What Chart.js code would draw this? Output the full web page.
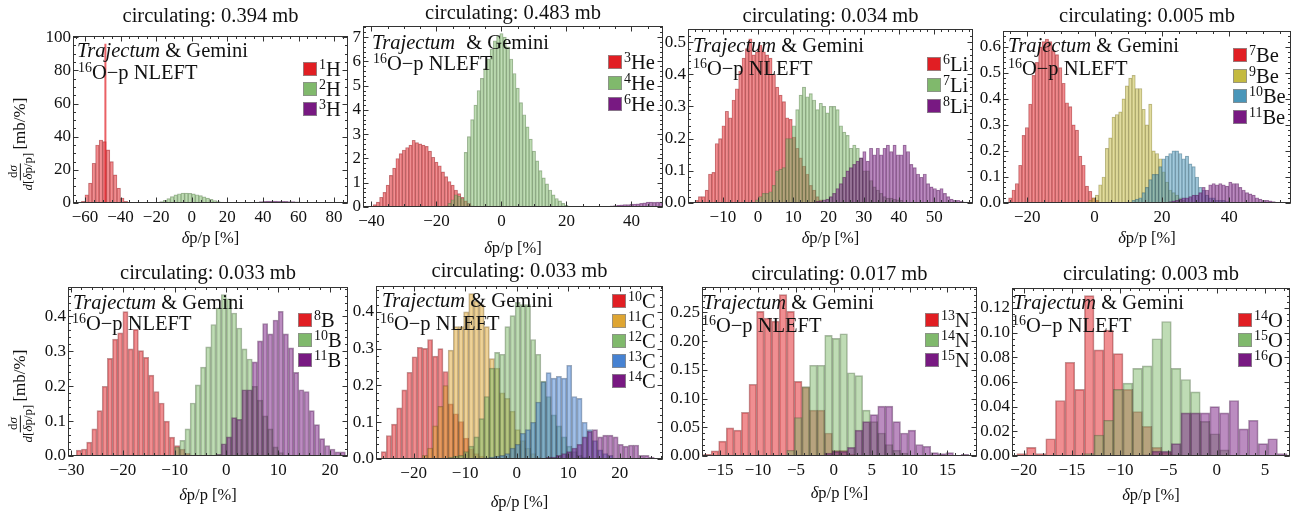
<!DOCTYPE html>
<html lang="en">
<head>
<meta charset="utf-8" />
<title>Fragment momentum deviation, 16O-p NLEFT</title>
<script src="https://cdn.jsdelivr.net/npm/chart.js"></script>
<style>
  html, body { margin: 0; background: #ffffff; }
  body {
    position: relative; width: 1299px; height: 515px; overflow: hidden;
    font-family: 'Liberation Serif', 'Times New Roman', serif; color: #111;
  }
  canvas { position: absolute; }
  .txt { position: absolute; white-space: nowrap; line-height: 1; z-index: 2; }
  .mid { transform: translate(-50%, -50%); }
  .lft { transform: translateY(-50%); }
  .title { font-size: 20.5px; }
  .xlab { font-size: 16.5px; }
  .note { font-size: 20.5px; }
  .legl { font-size: 20.5px; }
  .sw { position: absolute; width: 14px; height: 14px; box-sizing: border-box; border: 1px solid rgba(140,140,140,0.8); z-index: 2; }
  sup { font-size: 0.68em; line-height: 0; vertical-align: 0; position: relative; top: -0.48em; }
  .ylab { position: absolute; z-index: 2; white-space: nowrap; display: flex; align-items: center;
          transform: translate(-50%, -50%) rotate(-90deg); }
  .frac { display: inline-flex; flex-direction: column; align-items: center; font-size: 13px; line-height: 1.05; }
  .frac .num { border-bottom: 1px solid #111; padding: 0 2px; }
  .unit { font-size: 17px; margin-left: 3px; }
</style>
</head>
<body>
<script>
// ---------- data (bin centres: first value + bin width of the panel) ----------
// hydrogen
const h1First = -61;
const h1 = [1, 5, 12, 24, 35, 38, 37, 32, 25, 17, 9, 3, 1];
const h1Spike = [-48.5, 96];
const h2First = -19;
const h2 = [0.3, 0.8, 1.6, 2.6, 3.8, 4.9, 5.6, 6.0, 6.0, 5.8, 5.5, 5.0, 4.4, 3.7, 2.9, 2.2, 1.5, 0.9, 0.5, 0.2];
const h3First = 31;
const h3 = [0.1, 0.2, 0.4, 0.6, 0.8, 1.0, 1.1, 1.1, 1.1, 1.0, 1.0, 1.0, 0.9, 0.8, 0.7, 0.5, 0.4, 0.3, 0.2, 0.1];

// helium
const he3First = -39;
const he3 = [0.1, 0.2, 0.4, 0.6, 0.9, 1.3, 1.6, 2.0, 2.2, 2.35, 2.45, 2.55, 2.75, 2.65, 2.6, 2.55, 2.5, 2.3,
             2.05, 1.85, 1.7, 1.45, 1.25, 1.05, 0.9, 0.7, 0.55, 0.4, 0.25, 0.15, 0.05];
const he4First = -17;
const he4 = [0.05, 0.15, 0.3, 0.5, 0.45, 0.35, 2.25, 2.9, 3.6, 4.2, 4.8, 5.3, 5.7, 6.1, 6.5, 6.85, 7.05, 7.15,
             7.0, 6.6, 6.1, 5.5, 4.9, 4.3, 3.8, 3.3, 2.8, 2.3, 1.9, 1.5, 1.2, 0.95, 0.7, 0.5, 0.35, 0.25, 0.15, 0.07];
const he6First = 33;
const he6 = [0.03, 0.05, 0.06, 0.08, 0.09, 0.1, 0.1, 0.12, 0.12, 0.13, 0.15, 0.17, 0.2, 0.2, 0.19, 0.2, 0.2, 0.2];

// lithium
const li6First = -17.43;
const li6 = [0.008, 0.02, 0.02, 0.04, 0.09, 0.095, 0.185, 0.2, 0.24, 0.285, 0.265, 0.32, 0.355, 0.41, 0.45, 0.48,
             0.51, 0.46, 0.47, 0.49, 0.47, 0.46, 0.45, 0.4, 0.36, 0.335, 0.315, 0.265, 0.26, 0.205, 0.17, 0.14,
             0.115, 0.09, 0.055, 0.04, 0.02, 0.01];
const li7First = -0.3;
const li7 = [0.01, 0.02, 0.03, 0.03, 0.035, 0.055, 0.1, 0.105, 0.11, 0.2, 0.2, 0.24, 0.29, 0.335, 0.36, 0.33, 0.34,
             0.32, 0.29, 0.31, 0.3, 0.28, 0.3, 0.3, 0.29, 0.24, 0.22, 0.21, 0.17, 0.18, 0.17, 0.14, 0.1, 0.1, 0.07,
             0.05, 0.04, 0.03, 0.02, 0.015, 0.015, 0.012, 0.01, 0.008];
const li8First = 16.8;
const li8 = [0.005, 0.007, 0.01, 0.012, 0.02, 0.03, 0.045, 0.06, 0.08, 0.1, 0.11, 0.12, 0.13, 0.14, 0.16, 0.13, 0.17,
             0.15, 0.17, 0.15, 0.17, 0.18, 0.16, 0.18, 0.15, 0.15, 0.18, 0.16, 0.12, 0.11, 0.09, 0.08, 0.09, 0.06,
             0.05, 0.045, 0.04, 0.045, 0.03, 0.02, 0.012, 0.008, 0.008, 0.005, 0.003];

// beryllium
const be7First = -25.05;
const be7 = [0.02, 0.05, 0.075, 0.145, 0.26, 0.29, 0.38, 0.49, 0.54, 0.6, 0.62, 0.63, 0.62, 0.585, 0.57, 0.52, 0.46,
             0.385, 0.37, 0.3, 0.28, 0.18, 0.145, 0.065, 0.045, 0.02, 0.01];
const be9First = -1.3;
const be9 = [0.01, 0.02, 0.03, 0.07, 0.1, 0.21, 0.25, 0.33, 0.34, 0.35, 0.4, 0.45, 0.48, 0.49, 0.44, 0.44, 0.36, 0.3,
             0.38, 0.2, 0.19, 0.17, 0.12, 0.08, 0.05, 0.04, 0.03, 0.02, 0.01];
const be10First = 11.6;
const be10 = [0.01, 0.015, 0.02, 0.04, 0.06, 0.09, 0.11, 0.11, 0.14, 0.17, 0.18, 0.19, 0.2, 0.2, 0.19, 0.17, 0.18,
              0.15, 0.14, 0.1, 0.06, 0.05, 0.03, 0.02, 0.02, 0.01, 0.01, 0.01, 0.005];
const be11First = 22.5;
const be11 = [0.005, 0.008, 0.01, 0.015, 0.02, 0.02, 0.025, 0.03, 0.03, 0.04, 0.06, 0.05, 0.07, 0.075, 0.07, 0.075,
              0.07, 0.065, 0.08, 0.075, 0.075, 0.06, 0.05, 0.04, 0.035, 0.03, 0.02, 0.015, 0.01, 0.01, 0.008, 0.005];

// boron
const b8First = -28.5;
const b8 = [0.017, 0.02, 0.04, 0.078, 0.13, 0.2, 0.28, 0.335, 0.353, 0.414, 0.307, 0.363, 0.302, 0.283, 0.232,
            0.185, 0.152, 0.1, 0.054, 0.03, 0.02, 0.008];
const b10First = -9.5;
const b10 = [0.026, 0.045, 0.078, 0.152, 0.204, 0.255, 0.313, 0.377, 0.425, 0.463, 0.451, 0.41, 0.367, 0.307, 0.278,
             0.2, 0.16, 0.115, 0.078, 0.026, 0.01];
const b11First = -1.5;
const b11 = [0.005, 0.035, 0.055, 0.11, 0.105, 0.19, 0.19, 0.27, 0.33, 0.38, 0.35, 0.39, 0.415, 0.35, 0.31, 0.24,
             0.19, 0.185, 0.13, 0.09, 0.05, 0.03, 0.02, 0.012, 0.012];

// carbon
const c10First = -25.8;
const c10 = [0.02, 0.064, 0.095, 0.139, 0.188, 0.236, 0.278, 0.304, 0.301, 0.325, 0.28, 0.3, 0.238, 0.15, 0.123,
             0.102, 0.057, 0.028, 0.015, 0.008];
const c11First = -17.8;
const c11 = [0.01, 0.03, 0.09, 0.143, 0.2, 0.296, 0.36, 0.36, 0.4, 0.45, 0.43, 0.42, 0.36, 0.273, 0.247, 0.18,
             0.165, 0.13, 0.08, 0.05, 0.03, 0.015, 0.005];
const c12First = -12.8;
const c12 = [0.005, 0.008, 0.01, 0.02, 0.035, 0.06, 0.11, 0.17, 0.247, 0.29, 0.285, 0.36, 0.39, 0.426, 0.42, 0.42,
             0.325, 0.285, 0.212, 0.17, 0.12, 0.09, 0.06, 0.035, 0.02, 0.01, 0.005];
const c13First = -6.8;
const c13 = [0.002, 0.003, 0.005, 0.008, 0.01, 0.015, 0.03, 0.04, 0.07, 0.08, 0.1, 0.155, 0.21, 0.235, 0.22, 0.225,
             0.22, 0.255, 0.17, 0.165, 0.1, 0.08, 0.05, 0.025, 0.015, 0.01];
const c14First = 6.2;
const c14 = [0.005, 0.005, 0.01, 0.015, 0.02, 0.03, 0.04, 0.06, 0.075, 0.08, 0.06, 0.065, 0.065, 0.06, 0.04, 0.035,
             0.038, 0.038, 0.01, 0.01, 0.005];

// nitrogen
const n13First = -16.7;
const n13 = [0.003, 0.009, 0.026, 0.049, 0.045, 0.076, 0.125, 0.252, 0.24, 0.235, 0.281, 0.252, 0.13, 0.12, 0.08,
             0.08, 0.04, 0.01, 0.01, 0.003];
const n14First = -5.7;
const n14 = [0.01, 0.067, 0.121, 0.158, 0.158, 0.21, 0.205, 0.213, 0.145, 0.14, 0.08, 0.06, 0.04, 0.02, 0.01, 0.005];
const n15First = -0.7;
const n15 = [0.005, 0.008, 0.008, 0.015, 0.045, 0.06, 0.072, 0.087, 0.087, 0.06, 0.04, 0.045, 0.02, 0.017, 0.006,
             0.004, 0.006, 0, 0.003];

// oxygen
const o14First = -20.2;
const o14 = [0.002, 0.007, 0.002, 0.014, 0.045, 0.076, 0.054, 0.13, 0.086, 0.102, 0.083, 0.054, 0.036, 0.024,
             0.007, 0.003, 0.001];
const o15First = -13.2;
const o15 = [0.002, 0.017, 0.029, 0.054, 0.059, 0.071, 0.073, 0.095, 0.109, 0.071, 0.062, 0.052, 0.028, 0.018, 0.005];
const o16First = -7.2;
const o16 = [0.001, 0.004, 0.004, 0.01, 0.035, 0.035, 0.035, 0.04, 0.035, 0.045, 0.022, 0.029, 0.01, 0.014, 0.002];

// tick labels
const p1X = [-60, -40, -20, 0, 20, 40, 60, 80], p1Y = [0, 20, 40, 60, 80, 100];
const p2X = [-40, -20, 0, 20, 40], p2Y = [0, 1, 2, 3, 4, 5, 6, 7];
const p3X = [-10, 0, 10, 20, 30, 40, 50], p3Y = [0, 0.1, 0.2, 0.3, 0.4, 0.5];
const p4X = [-20, 0, 20, 40], p4Y = [0, 0.1, 0.2, 0.3, 0.4, 0.5, 0.6];
const p5X = [-30, -20, -10, 0, 10, 20], p5Y = [0, 0.1, 0.2, 0.3, 0.4];
const p6X = [-20, -10, 0, 10, 20], p6Y = [0, 0.1, 0.2, 0.3, 0.4];
const p7X = [-15, -10, -5, 0, 5, 10, 15], p7Y = [0, 0.05, 0.1, 0.15, 0.2, 0.25];
const p8X = [-20, -15, -10, -5, 0, 5], p8Y = [0, 0.02, 0.04, 0.06, 0.08, 0.1, 0.12];

const titles = ['circulating: 0.394 mb', 'circulating: 0.483 mb', 'circulating: 0.034 mb', 'circulating: 0.005 mb',
                'circulating: 0.033 mb', 'circulating: 0.033 mb', 'circulating: 0.017 mb', 'circulating: 0.003 mb'];

// ---------- styles ----------
const RED = [225, 30, 35], GREEN = [128, 185, 108], PURPLE = [120, 25, 130], OLIVE = [196, 186, 64],
      TEAL = [74, 150, 185], ORANGE = [222, 165, 50], BLUE = [70, 130, 210];
const rgba = (c, a) => `rgba(${c[0]},${c[1]},${c[2]},${a})`;
const fmt = (v, d) => (v < 0 ? '\u2212' : '') + Math.abs(v).toFixed(d);

const panels = [
  { box: [73, 32, 348, 203], xr: [-66.7, 87.8], yr: [0, 100.6], xt: p1X, yt: p1Y, xm: 5, ym: 5, yd: 0,
    grid: [-61, 2], edge: 0.5, spike: h1Spike, tY: 15, xlY: 238, n1: [4, 18], n2: [5, 40], leg: [45, 36.5, 20], ylab: true,
    series: [['1', 'H', h1First, h1, RED], ['2', 'H', h2First, h2, GREEN], ['3', 'H', h3First, h3, PURPLE]] },
  { box: [363, 22, 663, 207], xr: [-42.6, 49.7], yr: [0, 7.45], xt: p2X, yt: p2Y, xm: 5, ym: 0.2, yd: 0,
    grid: [-39, 1], edge: 0.5, tY: 12, xlY: 248, n1: [9, 20], n2: [10, 41], leg: [55, 40, 21], gap: 6,
    series: [['3', 'He', he3First, he3, RED], ['4', 'He', he4First, he4, GREEN], ['6', 'He', he6First, he6, PURPLE]] },
  { box: [688, 25, 973, 203], xr: [-19.9, 61], yr: [0, 0.54], xt: p3X, yt: p3Y, xm: 2, ym: 0.02, yd: 1,
    grid: [-17.43, 0.952], edge: 0.5, tY: 15, xlY: 238, n1: [5, 20], n2: [5, 43], leg: [46, 38.5, 21],
    series: [['6', 'Li', li6First, li6, RED], ['7', 'Li', li7First, li7, GREEN], ['8', 'Li', li8First, li8, PURPLE]] },
  { box: [1003, 27, 1291, 203], xr: [-27.2, 58.3], yr: [0, 0.66], xt: p4X, yt: p4Y, xm: 5, ym: 0.02, yd: 1,
    grid: [-25.05, 0.99], edge: 0.5, tY: 15, xlY: 238, n1: [5, 18], n2: [5, 41], leg: [58, 28, 20.5],
    series: [['7', 'Be', be7First, be7, RED], ['9', 'Be', be9First, be9, OLIVE], ['10', 'Be', be10First, be10, TEAL],
             ['11', 'Be', be11First, be11, PURPLE]] },
  { box: [68, 283, 348, 456], xr: [-30.6, 23.5], yr: [0, 0.484], xt: p5X, yt: p5Y, xm: 2, ym: 0.02, yd: 1,
    grid: [-28.5, 1], edge: 1, tY: 272, xlY: 495, n1: [5, 19], n2: [4, 40], leg: [50, 37, 20], ylab: true,
    series: [['8', 'B', b8First, b8, RED], ['10', 'B', b10First, b10, GREEN], ['11', 'B', b11First, b11, PURPLE]] },
  { box: [376, 282, 663, 459], xr: [-27.3, 28.4], yr: [0, 0.47], xt: p6X, yt: p6Y, xm: 2, ym: 0.02, yd: 1,
    grid: [-25.8, 1], edge: 1, tY: 270, xlY: 502, n1: [6, 18], n2: [4, 41], leg: [51, 18.5, 20],
    series: [['10', 'C', c10First, c10, RED], ['11', 'C', c11First, c11, ORANGE], ['12', 'C', c12First, c12, GREEN],
             ['13', 'C', c13First, c13, BLUE], ['14', 'C', c14First, c14, PURPLE]] },
  { box: [702, 283, 977, 456], xr: [-17.4, 18.9], yr: [0, 0.294], xt: p7X, yt: p7Y, xm: 1, ym: 0.01, yd: 2,
    grid: [-16.7, 1], edge: 1, tY: 273, xlY: 493, n1: [1, 19], n2: [0, 42], leg: [52, 37, 20],
    series: [['13', 'N', n13First, n13, RED], ['14', 'N', n14First, n14, GREEN], ['15', 'N', n15First, n15, PURPLE]] },
  { box: [1012, 284, 1290, 456], xr: [-21.2, 7.6], yr: [0, 0.136], xt: p8X, yt: p8Y, xm: 1, ym: 0.005, yd: 2,
    grid: [-20.2, 1], edge: 1, tY: 273, xlY: 495, n1: [1, 18], n2: [0, 41], leg: [52, 36, 20],
    series: [['14', 'O', o14First, o14, RED], ['15', 'O', o15First, o15, GREEN], ['16', 'O', o16First, o16, PURPLE]] }
];

Chart.defaults.font.family = "'Liberation Serif', 'Times New Roman', serif";
Chart.defaults.color = '#111';

// frame with inward major / minor ticks on all four sides
const frameTicks = {
  id: 'frameTicks',
  afterDraw(chart, args, o) {
    const { ctx, chartArea: a } = chart;
    const xs = chart.scales.x, ys = chart.scales.y;
    const L = Math.round(a.left) + 0.5, R = Math.round(a.right) - 0.5;
    const T = Math.round(a.top) + 0.5, B = Math.round(a.bottom) - 0.5;
    const minors = (s, step) => {
      const out = [];
      for (let i = Math.ceil(s.min / step - 1e-9); i * step <= s.max + 1e-9; i++) out.push(i * step);
      return out;
    };
    ctx.save();
    ctx.strokeStyle = '#333';
    ctx.lineWidth = 1;
    ctx.strokeRect(L, T, R - L, B - T);
    ctx.beginPath();
    const tx = (v, len) => {
      const px = Math.round(xs.getPixelForValue(v)) + 0.5;
      ctx.moveTo(px, B); ctx.lineTo(px, B - len);
      ctx.moveTo(px, T); ctx.lineTo(px, T + len);
    };
    const ty = (v, len) => {
      const py = Math.round(ys.getPixelForValue(v)) + 0.5;
      ctx.moveTo(L, py); ctx.lineTo(L + len, py);
      ctx.moveTo(R, py); ctx.lineTo(R - len, py);
    };
    minors(xs, o.xMinor).forEach(v => tx(v, 2.5));
    minors(ys, o.yMinor).forEach(v => ty(v, 2.5));
    xs.ticks.forEach(t => tx(t.value, 5));
    ys.ticks.forEach(t => ty(t.value, 5));
    ctx.stroke();
    ctx.restore();
  }
};

function addText(cls, x, y, html) {
  const d = document.createElement('div');
  d.className = 'txt ' + cls;
  d.style.left = x + 'px';
  d.style.top = y + 'px';
  d.innerHTML = html;
  document.body.appendChild(d);
  return d;
}

function build(p, idx) {
  const padL = 52, padR = 8, padT = 8, padB = 30;
  const [L, T, R, B] = p.box;
  const w = R - L + padL + padR, h = B - T + padT + padB;
  const cv = document.createElement('canvas');
  cv.width = w; cv.height = h;
  cv.style.left = (L - padL) + 'px';
  cv.style.top = (T - padT) + 'px';
  cv.style.width = w + 'px';
  cv.style.height = h + 'px';
  document.body.appendChild(cv);

  const [g0, bw] = p.grid;
  const n = p.series.length;
  const datasets = p.series.map(([iso, el, first, vals, col], i) => {
    const k0 = Math.round((first - g0) / bw);
    return {
      type: 'bar',
      label: iso + el,
      data: vals.map((v, j) => ({ x: g0 + (k0 + j) * bw, y: v })),
      backgroundColor: rgba(col, 0.5),
      borderColor: rgba(col.map(c => Math.round(c * 0.5)), 0.45),
      borderWidth: p.edge,
      grouped: false,
      barPercentage: 1,
      categoryPercentage: 1,
      order: n - i + 1
    };
  });
  if (p.spike) {
    datasets.push({
      type: 'line',
      label: 'peak',
      data: [{ x: p.spike[0], y: 0 }, { x: p.spike[0], y: p.spike[1] }],
      borderColor: rgba(RED, 0.7),
      borderWidth: 2,
      pointRadius: 0,
      order: 0
    });
  }

  new Chart(cv, {
    type: 'bar',
    data: { datasets },
    options: {
      responsive: false,
      animation: false,
      layout: { padding: { top: padT, right: padR, left: 0, bottom: 0 } },
      plugins: {
        legend: { display: false },
        tooltip: { enabled: false },
        frameTicks: { xMinor: p.xm, yMinor: p.ym }
      },
      scales: {
        x: {
          type: 'linear', min: p.xr[0], max: p.xr[1], offset: false,
          grid: { display: false, drawTicks: false }, border: { display: false },
          ticks: { padding: 4, autoSkip: false, maxRotation: 0, font: { size: 17 }, color: '#111',
                   callback: v => fmt(v, 0) },
          afterBuildTicks: s => { s.ticks = p.xt.map(v => ({ value: v })); },
          afterFit: s => { s.height = padB; }
        },
        y: {
          type: 'linear', min: p.yr[0], max: p.yr[1],
          grid: { display: false, drawTicks: false }, border: { display: false },
          ticks: { padding: 2, autoSkip: false, font: { size: 17 }, color: '#111',
                   callback: v => fmt(v, p.yd) },
          afterBuildTicks: s => { s.ticks = p.yt.map(v => ({ value: v })); },
          afterFit: s => { s.width = padL; }
        }
      }
    },
    plugins: [frameTicks]
  });

  const cx = (L + R) / 2;
  addText('mid title', cx, p.tY, titles[idx]);
  addText('mid xlab', cx, p.xlY, '<i>δ</i>p/p [%]');
  const gap = p.gap ? `style="margin-left:${p.gap}px"` : '';
  addText('lft note', L + p.n1[0], T + p.n1[1], `<i>Trajectum</i> <span ${gap}>&amp; Gemini</span>`);
  addText('lft note', L + p.n2[0], T + p.n2[1], '<sup>16</sup>O\u2212p NLEFT');
  p.series.forEach(([iso, el, , , col], i) => {
    const yc = T + p.leg[1] + i * p.leg[2];
    const sw = document.createElement('div');
    sw.className = 'sw';
    sw.style.left = (R - p.leg[0]) + 'px';
    sw.style.top = (yc - 7) + 'px';
    sw.style.background = rgba(col, 1);
    document.body.appendChild(sw);
    addText('lft legl', R - p.leg[0] + 16, yc, `<sup>${iso}</sup>${el}`);
  });
  if (p.ylab) {
    const d = document.createElement('div');
    d.className = 'ylab';
    d.style.left = '20px';
    d.style.top = (idx === 0 ? 144 : 396) + 'px';
    d.innerHTML = '<span class="frac"><span class="num">d<i>σ</i></span><span class="den"><i>d</i>[<i>δ</i>p/p]</span></span><span class="unit">[mb/%]</span>';
    document.body.appendChild(d);
  }
}

panels.forEach(build);
</script>
</body>
</html>
